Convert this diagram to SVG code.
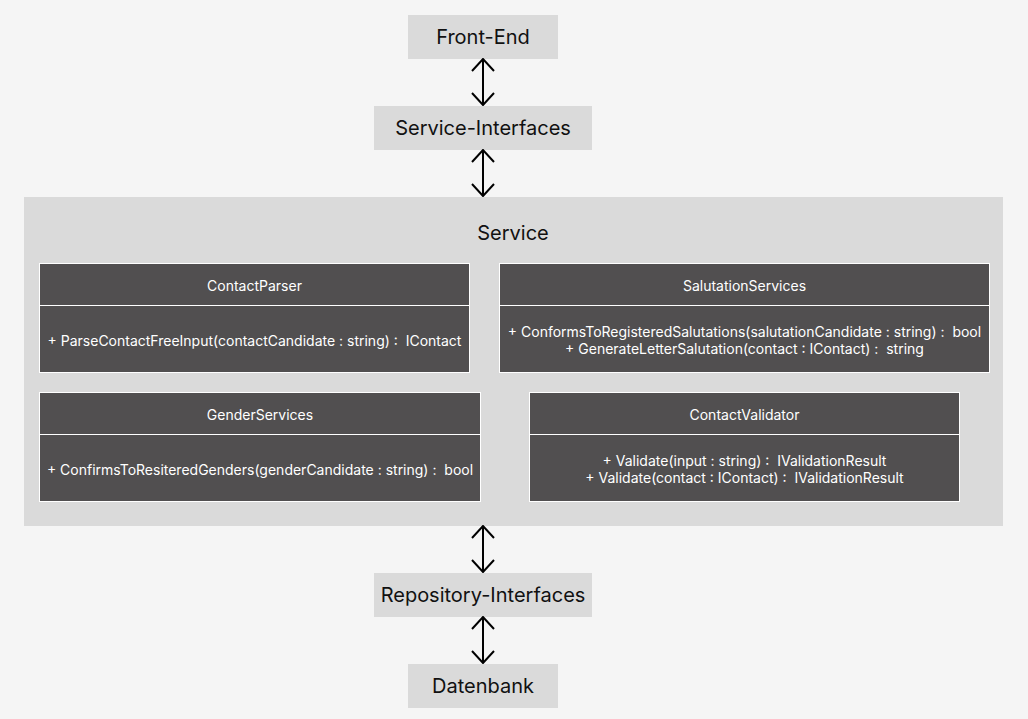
<svg xmlns="http://www.w3.org/2000/svg" width="1028" height="719" viewBox="0 0 1028 719">
<style>
.bg{fill:#f5f5f5}
.box{fill:#dadada}
.lbl{font-family:Inter,"Liberation Sans",sans-serif;font-size:20px;fill:#111;text-anchor:middle;dominant-baseline:central}
.cls{fill:#514f50;stroke:#fff;stroke-width:1}
.ct{font-family:Inter,"Liberation Sans",sans-serif;font-size:14px;fill:#fff;text-anchor:middle;dominant-baseline:central;white-space:pre}
.conn{stroke:#000;stroke-width:2;fill:none}
</style>
<defs>
<marker id="ah" viewBox="0 0 14 24" refX="13" refY="12" markerWidth="14" markerHeight="24" markerUnits="userSpaceOnUse" orient="auto-start-reverse">
<path d="M1,1 L13,12 L1,23" fill="none" stroke="#000" stroke-width="2"/>
</marker>
</defs>
<rect class="bg" x="0" y="0" width="1028" height="719"/>
<g id="service">
<rect class="box" x="24" y="197" width="979" height="329"/>
<text class="lbl" x="513" y="233">Service</text>
</g>
<g id="front-end">
<rect class="box" x="408" y="15" width="150" height="44"/>
<text class="lbl" x="483" y="37">Front-End</text>
</g>
<g id="service-interfaces">
<rect class="box" x="374" y="106" width="218" height="44"/>
<text class="lbl" x="483" y="128">Service-Interfaces</text>
</g>
<g id="repository-interfaces">
<rect class="box" x="374" y="573" width="218" height="44"/>
<text class="lbl" x="483" y="595">Repository-Interfaces</text>
</g>
<g id="datenbank">
<rect class="box" x="408" y="664" width="150" height="44"/>
<text class="lbl" x="483" y="686">Datenbank</text>
</g>
<g id="contact-parser">
<rect class="cls" x="39.5" y="263.5" width="430" height="42"/>
<rect class="cls" x="39.5" y="305.5" width="430" height="67"/>
<text class="ct" x="254.5" y="285">ContactParser</text>
<text class="ct" x="254.5" y="340">+ ParseContactFreeInput(contactCandidate : string) :  IContact</text>
</g>
<g id="salutation-services">
<rect class="cls" x="499.5" y="263.5" width="490" height="42"/>
<rect class="cls" x="499.5" y="305.5" width="490" height="67"/>
<text class="ct" x="744.5" y="285">SalutationServices</text>
<text class="ct" x="744.5" y="331">+ ConformsToRegisteredSalutations(salutationCandidate : string) :  bool</text>
<text class="ct" x="744.5" y="348">+ GenerateLetterSalutation(contact : IContact) :  string</text>
</g>
<g id="gender-services">
<rect class="cls" x="39.5" y="392.5" width="441" height="42"/>
<rect class="cls" x="39.5" y="434.5" width="441" height="67"/>
<text class="ct" x="260" y="414">GenderServices</text>
<text class="ct" x="260" y="469">+ ConfirmsToResiteredGenders(genderCandidate : string) :  bool</text>
</g>
<g id="contact-validator">
<rect class="cls" x="529.5" y="392.5" width="430" height="42"/>
<rect class="cls" x="529.5" y="434.5" width="430" height="67"/>
<text class="ct" x="744.5" y="414">ContactValidator</text>
<text class="ct" x="744.5" y="460">+ Validate(input : string) :  IValidationResult</text>
<text class="ct" x="744.5" y="477">+ Validate(contact : IContact) :  IValidationResult</text>
</g>
<g id="connectors">
<line class="conn" x1="483" y1="59" x2="483" y2="105" marker-start="url(#ah)" marker-end="url(#ah)"/>
<line class="conn" x1="483" y1="150" x2="483" y2="196" marker-start="url(#ah)" marker-end="url(#ah)"/>
<line class="conn" x1="483" y1="526" x2="483" y2="572" marker-start="url(#ah)" marker-end="url(#ah)"/>
<line class="conn" x1="483" y1="617" x2="483" y2="663" marker-start="url(#ah)" marker-end="url(#ah)"/>
</g>
</svg>
